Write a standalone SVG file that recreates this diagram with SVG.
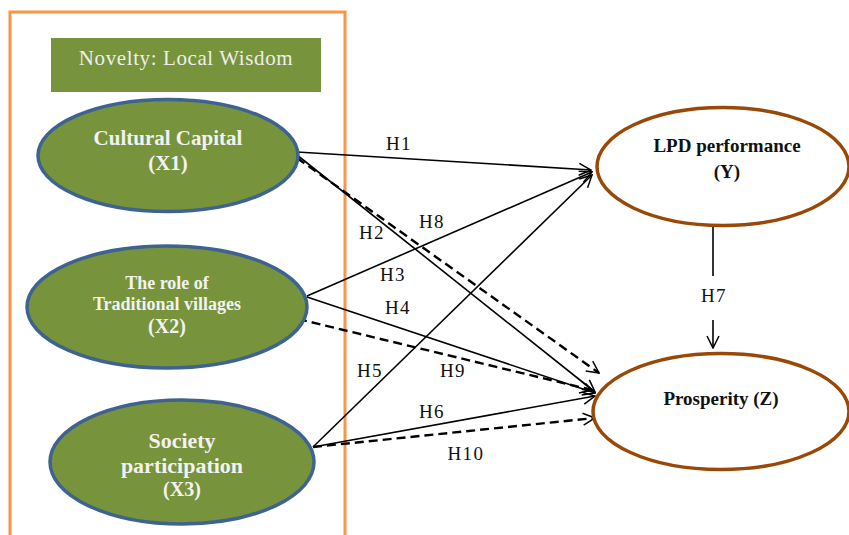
<svg xmlns="http://www.w3.org/2000/svg" width="849" height="535" viewBox="0 0 849 535">
<defs>
<marker id="arr" viewBox="0 0 14 14" refX="13" refY="7" markerWidth="14" markerHeight="14" markerUnits="userSpaceOnUse" orient="auto">
<path d="M1,1 L13,7 L1,13" fill="none" stroke="#000" stroke-width="1.5"/>
</marker>
<style>
.frame{fill:none;stroke:#F79646;stroke-width:3}
.green{fill:#77933C;stroke:#3E6390;stroke-width:3.5}
.brown{fill:#fff;stroke:#984807;stroke-width:3.5}
.wt{font-family:"Liberation Serif","Times New Roman",serif;font-weight:bold;fill:#F2F2F2;text-anchor:middle}
.dt{font-family:"Liberation Serif","Times New Roman",serif;font-weight:bold;fill:#111;text-anchor:middle}
.lbl{font-family:"Liberation Serif","Times New Roman",serif;font-size:19px;letter-spacing:1.5px;fill:#111;text-anchor:middle}
.sol{stroke:#000;stroke-width:1.6;fill:none}
.dash{stroke:#000;stroke-width:2.4;fill:none;stroke-dasharray:9,5}
</style>
</defs>
<rect width="849" height="535" fill="#fff"/>
<rect class="frame" x="10" y="12" width="335" height="540"/>
<g id="novelty">
<rect x="51" y="38" width="270" height="54" fill="#77933C"/>
<text x="186" y="65" font-family="'Liberation Serif','Times New Roman',serif" font-size="21" letter-spacing="0.6" fill="#EEEEEE" text-anchor="middle">Novelty: Local Wisdom</text>
</g>
<g id="connectors">
<line class="sol" x1="297" y1="152" x2="591" y2="170" marker-end="url(#arr)"/>
<line class="sol" x1="297" y1="155" x2="595" y2="392" marker-end="url(#arr)"/>
<line class="dash" x1="297" y1="158" x2="599" y2="373" marker-end="url(#arr)"/>
<line class="sol" x1="307" y1="296" x2="592" y2="172" marker-end="url(#arr)"/>
<line class="sol" x1="307" y1="297" x2="595" y2="393" marker-end="url(#arr)"/>
<line class="dash" x1="298" y1="319" x2="592" y2="390" marker-end="url(#arr)"/>
<line class="sol" x1="313" y1="447" x2="592" y2="175" marker-end="url(#arr)"/>
<line class="sol" x1="313" y1="447" x2="595" y2="396" marker-end="url(#arr)"/>
<line class="dash" x1="313" y1="447" x2="595" y2="418" marker-end="url(#arr)"/>
<line class="sol" x1="713" y1="226" x2="713" y2="276"/>
<line class="sol" x1="713" y1="320" x2="713" y2="348" marker-end="url(#arr)"/>
<text class="lbl" x="399" y="150">H1</text>
<text class="lbl" x="372" y="239">H2</text>
<text class="lbl" x="432" y="228">H8</text>
<text class="lbl" x="393" y="281">H3</text>
<text class="lbl" x="398" y="314">H4</text>
<text class="lbl" x="453" y="377">H9</text>
<text class="lbl" x="370" y="377">H5</text>
<text class="lbl" x="432" y="418">H6</text>
<text class="lbl" x="466" y="460">H10</text>
<text class="lbl" x="714" y="302">H7</text>
</g>
<g id="x1">
<ellipse class="green" cx="168" cy="155.5" rx="130" ry="56"/>
<text class="wt" x="168" y="145" font-size="21">Cultural Capital</text>
<text class="wt" x="168" y="170" font-size="21">(X1)</text>
</g>
<g id="x2">
<ellipse class="green" cx="167" cy="307" rx="140" ry="61"/>
<text class="wt" x="167" y="289" font-size="18">The role of</text>
<text class="wt" x="167" y="310" font-size="18">Traditional villages</text>
<text class="wt" x="167" y="333" font-size="20">(X2)</text>
</g>
<g id="x3">
<ellipse class="green" cx="182" cy="462" rx="132" ry="62"/>
<text class="wt" x="182" y="448" font-size="22">Society</text>
<text class="wt" x="182" y="473" font-size="22">participation</text>
<text class="wt" x="182" y="496" font-size="20">(X3)</text>
</g>
<g id="y">
<ellipse class="brown" cx="723" cy="166.5" rx="126" ry="59"/>
<text class="dt" x="727" y="152" font-size="19">LPD performance</text>
<text class="dt" x="727" y="178" font-size="19">(Y)</text>
</g>
<g id="z">
<ellipse class="brown" cx="721" cy="411.5" rx="128" ry="58"/>
<text class="dt" x="721" y="405" font-size="19">Prosperity (Z)</text>
</g>
</svg>
